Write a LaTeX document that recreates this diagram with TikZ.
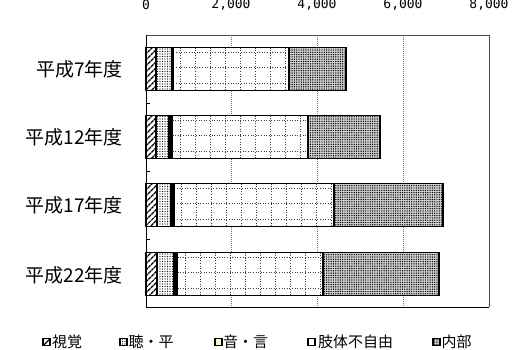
\documentclass[tikz,border=0pt]{standalone}
\usepackage{fontspec}
\newfontfamily\jp{Noto Sans CJK JP}
\newfontfamily\mono{DejaVu Sans Mono}
\usetikzlibrary{patterns.meta}
\tikzset{
  seg/.style={draw=black, line width=1.8pt},
  visualfill/.style={pattern={Lines[angle=45,distance=4pt,line width=1.5pt]}},
  hearingfill/.style={pattern={Dots[distance=2.5pt,radius=0.6pt]}},
  speechfill/.style={fill=yellow!25},
  speechbar/.style={fill=black},
  limbfill/.style={fill=white},
  internalfill/.style={fill=black!18, postaction={pattern={Dots[distance=2.3pt,radius=0.72pt]}}},
  griddot/.style={draw=black!75, line width=1pt, dash pattern=on 1pt off 1.6pt},
  gridl/.style={draw=black!55, line width=0.6pt, dash pattern=on 1pt off 1pt},
  cat/.style={font=\jp\fontsize{19}{19}\selectfont, anchor=east, inner sep=0pt},
  axl/.style={font=\mono\fontsize{13}{13}\selectfont, inner sep=0pt},
  legt/.style={font=\jp\fontsize{15}{15}\selectfont, anchor=west, inner sep=0pt},
  sw/.style={draw=black, line width=1.9pt},
}
\newcommand\catbar[7]{%
  \fill[visualfill] (#2,#1) rectangle (#3,{#1+43});
  \fill[hearingfill] (#3,#1) rectangle (#4,{#1+43});
  \fill[speechbar] (#4,#1) rectangle (#5,{#1+43});
  \fill[limbfill] (#5,#1) rectangle (#6,{#1+43});
  \begin{scope}
    \clip (#5,#1) rectangle (#6,{#1+43});
    \foreach \k in {0,...,12} \draw[griddot] ({#5+7.5+15*\k},#1) -- ++(0,43);
    \foreach \d in {5,20,36} \draw[griddot] (#5,{#1+\d}) -- (#6,{#1+\d});
  \end{scope}
  \fill[internalfill] (#6,#1) rectangle (#7,{#1+43});
  \draw[seg] (#2,#1) rectangle (#3,{#1+43});
  \draw[seg] (#3,#1) rectangle (#4,{#1+43});
  \draw[seg] (#4,#1) rectangle (#5,{#1+43});
  \draw[seg] (#5,#1) rectangle (#6,{#1+43});
  \draw[seg] (#6,#1) rectangle (#7,{#1+43});
}
\begin{document}
\begin{tikzpicture}[x=1pt,y=-1pt]
\useasboundingbox (0,0) rectangle (528,349);
% gridlines
\foreach \gx in {231,317,403} \draw[gridl] (\gx,35) -- (\gx,307);
% frame
\draw[black!70, line width=1pt] (146,35) -- (489,35) -- (489,307);
\draw[black, line width=0.9pt] (146,35) -- (146,307) -- (489,307);
\foreach \ty in {103,171,239} \draw[black, line width=0.8pt] (146,\ty) -- (150,\ty);
% bars
\catbar{47.5}{146}{156}{171.5}{173.3}{289}{346}
\catbar{115.5}{146}{156}{168.8}{172.5}{308}{380}
\catbar{183.5}{146}{156.7}{171.3}{174.3}{334}{443}
\catbar{252.5}{146}{157.3}{174}{177.5}{323.3}{439}
% axis labels
\node[axl] (a0) at (146,5) {0};
\node[axl] (a1) at (231,5) {2,000};
\node[axl] (a2) at (317,5) {4,000};
\node[axl] (a3) at (403,5) {6,000};
\node[axl] (a4) at (489,5) {8,000};
% category labels
\node[cat] (c1) at (123,69) {平成7年度};
\node[cat] (c2) at (123,137) {平成12年度};
\node[cat] (c3) at (123,205) {平成17年度};
\node[cat] (c4) at (123,275) {平成22年度};
% legend
\fill[visualfill] (43,338.5) rectangle (50,345.5);
\draw[sw] (43,338.5) rectangle (50,345.5);
\node[legt] (l1) at (52,342) {視覚};
\fill[hearingfill] (120,338.5) rectangle (127,345.5);
\draw[sw] (120,338.5) rectangle (127,345.5);
\node[legt] (l2) at (128.5,342) {聴・平};
\fill[speechfill] (215,338.5) rectangle (222,345.5);
\draw[sw] (215,338.5) rectangle (222,345.5);
\node[legt] (l3) at (223,342) {音・言};
\fill[limbfill] (308,338.5) rectangle (315,345.5);
\draw[sw] (308,338.5) rectangle (315,345.5);
\node[legt] (l4) at (318,342) {肢体不自由};
\fill[internalfill] (433,338.5) rectangle (440,345.5);
\draw[sw] (433,338.5) rectangle (440,345.5);
\node[legt] (l5) at (441.5,342) {内部};
\end{tikzpicture}
\end{document}
